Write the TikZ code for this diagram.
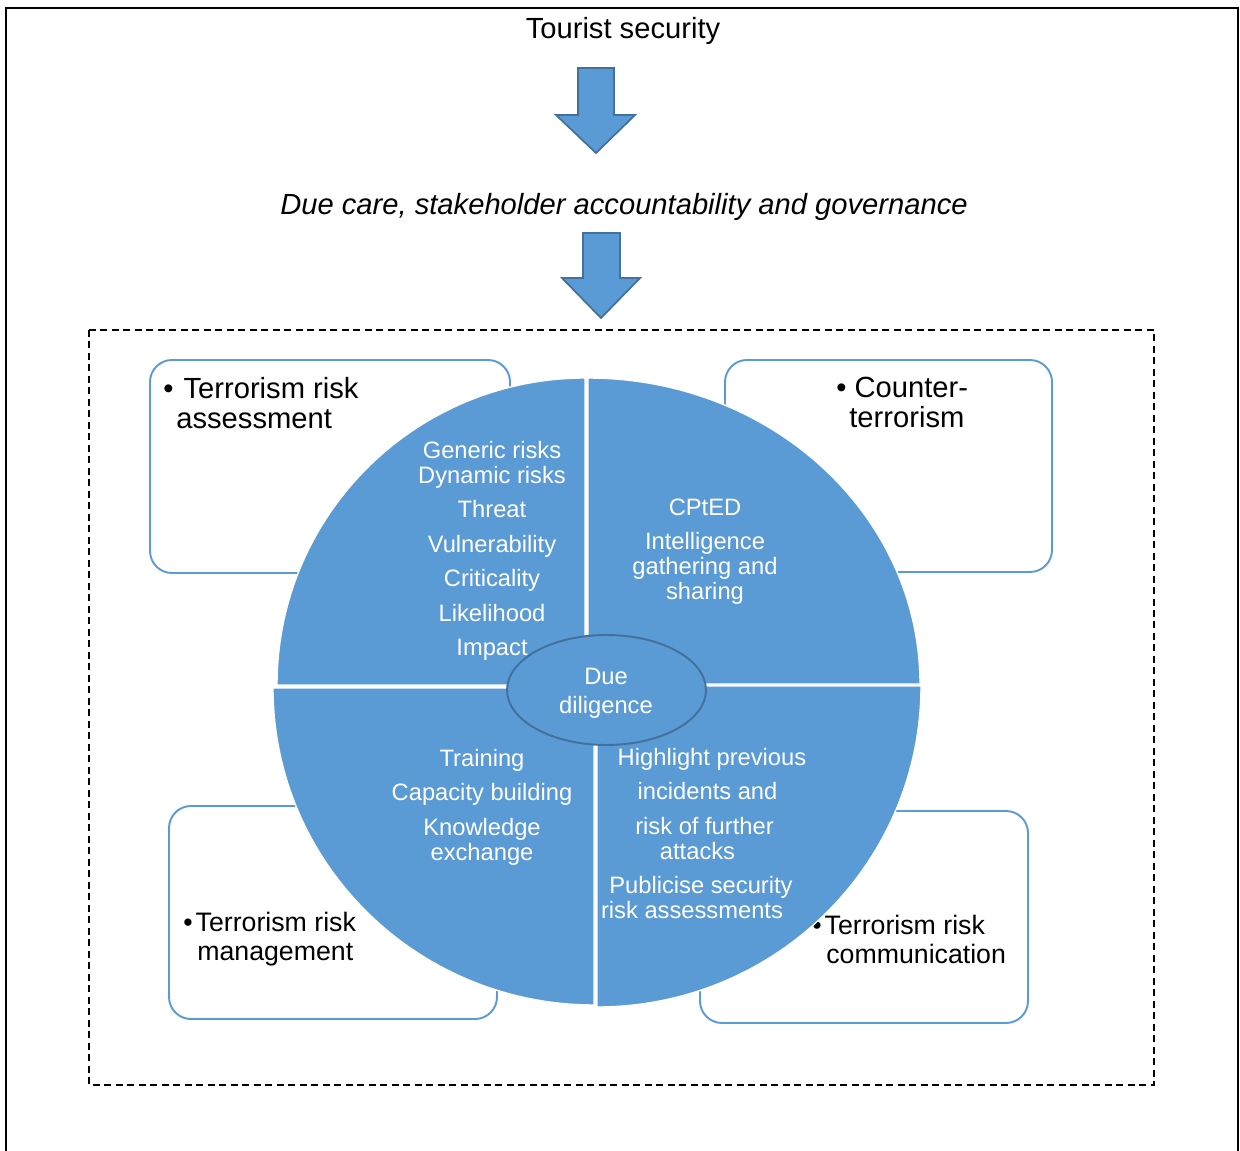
\documentclass[tikz,border=0pt]{standalone}
\usepackage{fontspec}
\setmainfont{Liberation Sans}
\usepackage{tikz}
\usetikzlibrary{shapes.geometric}
\definecolor{segblue}{HTML}{5B9BD5}
\definecolor{edgeblue}{HTML}{41719C}

\begin{document}
\begin{tikzpicture}[x=0.02cm, y=-0.02cm, every node/.style={inner sep=0pt},
	bigtext/.style={font=\fontsize{16.6}{17.1}\selectfont},
	boxtext/.style={font=\fontsize{16.6}{17.1}\selectfont, align=left, anchor=north west},
	smallboxtext/.style={boxtext, font=\fontsize{15.2}{16.2}\selectfont},
	segtext/.style={font=\fontsize{13.5}{14.2}\selectfont, text=white, align=center, anchor=north},
	riskbox/.style={draw=segblue, line width=1.1pt, fill=white, rounded corners=0.44cm},
	segment/.style={fill=segblue, draw=white, line width=0.8pt},
	blockarrow/.style={fill=segblue, draw=edgeblue, line width=1pt, line join=miter}]
			\useasboundingbox (0,0) rectangle (1240,1151);
			\draw[line width=1.1pt] (6,1160) -- (6,8) -- (1238,8) -- (1238,1160);
			\draw[dash pattern=on 0.14cm off 0.09cm, line width=1pt] (89,330) rectangle (1154,1085);
			\node[bigtext, anchor=base] (title) at (623,38.5) {Tourist security};
			\draw[blockarrow] (578,68) -- (614,68) -- (614,115) -- (635,115) -- (596,153) -- (556,115) -- (578,115) -- cycle;
			\node[bigtext, anchor=base] (duecare) at (624,214.5) {\itshape Due care, stakeholder accountability and governance};
			\draw[blockarrow] (583,233) -- (620,233) -- (620,278) -- (640,278) -- (601,318) -- (562,278) -- (583,278) -- cycle;
			\draw[riskbox] (150,360) rectangle (510,573);
			\draw[riskbox] (725,360) rectangle (1052,572);
			\draw[riskbox] (169,806) rectangle (497,1019);
			\draw[riskbox] (700,811) rectangle (1028,1023);
			\node[boxtext] (assess) at (163,377) {\textbullet\hspace{0.2cm}Terrorism risk\\\hspace*{0.26cm}assessment};
			\node[boxtext] (counter) at (836,377) {\textbullet\ Counter-\\\hspace*{0.26cm}terrorism};
			\node[smallboxtext] (manage) at (183,912) {\textbullet\hspace{0.06cm}Terrorism risk\\\hspace*{0.28cm}management};
			\node[smallboxtext] (commun) at (812,915) {\textbullet\hspace{0.06cm}Terrorism risk\\\hspace*{0.28cm}communication};
			\draw[segment] (585,685) -- (585,378) arc[start angle=270, end angle=180, x radius=308, y radius=307] -- cycle;
			\draw[segment] (588,684) -- (920,684) arc[start angle=0, end angle=-90, x radius=332, y radius=306] -- cycle;
			\draw[segment] (594,688) -- (273,688) arc[start angle=180, end angle=90, x radius=321, y radius=317] -- cycle;
			\draw[segment] (597,686) -- (597,1007) arc[start angle=90, end angle=0, x radius=324, y radius=321] -- cycle;
			\node[segtext] (assessitems) at (492,441) {Generic risks\\Dynamic risks\\[0.19cm]Threat\\[0.19cm]Vulnerability\\[0.19cm]Criticality\\[0.19cm]Likelihood\\[0.19cm]Impact};
			\node[segtext] (counteritems) at (705,498.5) {CPtED\\[0.19cm]Intelligence\\gathering and\\sharing};
			\node[segtext] (manageitems) at (482,749) {Training\\[0.19cm]Capacity building\\[0.19cm]Knowledge\\exchange};
			\node[segtext] (communitems) at (703,748) {\hspace*{0.18cm}Highlight previous\hspace*{-0.18cm}\\[0.19cm]\hspace*{0.18cm}incidents and\hspace*{-0.18cm}\\[0.19cm]\hspace*{0.06cm}risk of further\hspace*{-0.06cm}\\\hspace*{-0.22cm}attacks\hspace*{0.22cm}\\[0.19cm]\hspace*{-0.08cm}Publicise security\hspace*{0.08cm}\\\hspace*{-0.22cm}risk assessments\hspace*{0.22cm}};
			\node[ellipse, fill=segblue, draw=edgeblue, line width=1.1pt, minimum width=3.98cm, minimum height=2.2cm] (diligence) at (606.5,690) {};
			\node[segtext, anchor=center, font=\fontsize{13.5}{16.5}\selectfont] (diligencetext) at (606,693) {Due\\diligence};
		\end{tikzpicture}
\end{document}
